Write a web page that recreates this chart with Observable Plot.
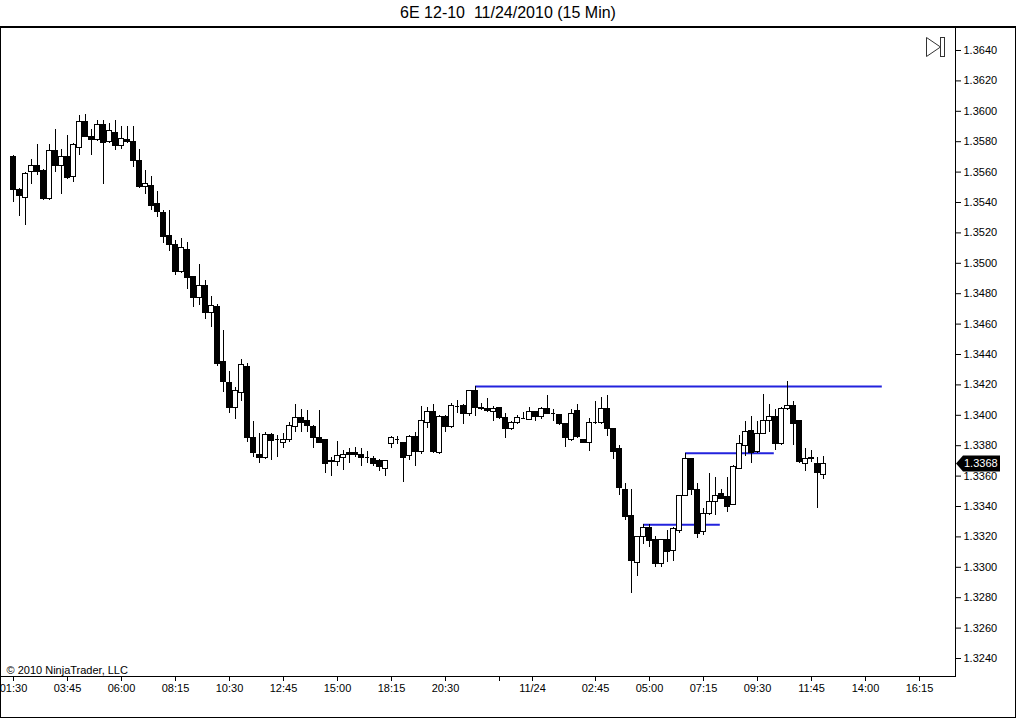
<!DOCTYPE html>
<html><head><meta charset="utf-8">
<script src="https://cdn.jsdelivr.net/npm/d3@7"></script>
<script src="https://cdn.jsdelivr.net/npm/@observablehq/plot@0.6"></script>
<style>
body{margin:0;background:#fff;font-family:"Liberation Sans",Arial,sans-serif;}
#wrap{width:1016px;height:719px;position:relative;overflow:hidden;background:#fff}
#title{height:26px;border-bottom:1px solid #000;text-align:center;font-size:16px;line-height:26px;color:#000;padding-left:0}
svg{display:block}
</style></head>
<body><div id="wrap"><div id="title">6E 12-10&nbsp; 11/24/2010 (15 Min)</div><div id="chart"></div></div>
<script>
// 15-minute bars, in order (index 0 = 01:30 on 11/23)
const opens  = [1.3570,1.3548,1.3543,1.3560,1.3564,1.3561,1.3542,1.3574,1.3564,1.3570,1.3557,1.3576,1.3593,1.3583,1.3581,1.3591,1.3580,1.3586,1.3577,1.3581,
1.3580,1.3567,1.3550,1.3551,1.3539,1.3533,1.3518,1.3512,1.3494,1.3509,1.3491,1.3477,1.3485,1.3467,1.3471,1.3435,1.3421,1.3405,1.3415,1.3432,
1.3385,1.3374,1.3372,1.3387,1.3384,1.3382,1.3384,1.3392,1.3398,1.3396,1.3392,1.3385,1.3384,1.3369,1.3369,1.3372,1.3375,1.3375,1.3374,1.3372,
1.3371,1.3370,1.3365,1.3381,1.3384,1.3382,1.3373,1.3386,1.3376,1.3395,1.3402,1.3375,1.3399,1.3392,1.3406,1.3406,1.3401,1.3416,1.3405,1.3404,
1.3402,1.3405,1.3398,1.3391,1.3395,1.3398,1.3397,1.3402,1.3399,1.3404,1.3401,1.3400,1.3394,1.3384,1.3403,1.3384,1.3382,1.3395,1.3395,1.3404,
1.3391,1.3378,1.3351,1.3334,1.3303,1.3320,1.3326,1.3318,1.3302,1.3318,1.3311,1.3324,1.3347,1.3371,1.3351,1.3323,1.3335,1.3343,1.3348,1.3346,
1.3341,1.3365,1.3380,1.3390,1.3376,1.3388,1.3396,1.3399,1.3381,1.3404,1.3406,1.3396,1.3368,1.3372,1.3368,1.3361];
const highs  = [1.3571,1.3549,1.3560,1.3568,1.3578,1.3562,1.3578,1.3588,1.3575,1.3584,1.3579,1.3597,1.3598,1.3588,1.3594,1.3594,1.3592,1.3594,1.3590,1.3590,
1.3590,1.3575,1.3561,1.3557,1.3547,1.3535,1.3535,1.3515,1.3516,1.3514,1.3491,1.3499,1.3489,1.3478,1.3473,1.3456,1.3429,1.3418,1.3437,1.3434,
1.3396,1.3388,1.3389,1.3388,1.3387,1.3388,1.3395,1.3407,1.3404,1.3403,1.3393,1.3403,1.3384,1.3372,1.3383,1.3377,1.3378,1.3379,1.3378,1.3376,
1.3373,1.3371,1.3370,1.3386,1.3386,1.3382,1.3387,1.3389,1.3406,1.3405,1.3407,1.3400,1.3400,1.3408,1.3410,1.3407,1.3416,1.3419,1.3408,1.3411,
1.3406,1.3405,1.3401,1.3396,1.3400,1.3402,1.3405,1.3402,1.3405,1.3413,1.3404,1.3400,1.3394,1.3404,1.3407,1.3384,1.3398,1.3409,1.3412,1.3413,
1.3391,1.3380,1.3355,1.3351,1.3320,1.3328,1.3328,1.3320,1.3318,1.3324,1.3326,1.3347,1.3375,1.3371,1.3355,1.3339,1.3362,1.3359,1.3351,1.3359,
1.3367,1.3387,1.3396,1.3399,1.3396,1.3414,1.3407,1.3404,1.3405,1.3422,1.3409,1.3396,1.3378,1.3377,1.3372,1.3373];
const lows   = [1.3540,1.3531,1.3525,1.3552,1.3558,1.3541,1.3541,1.3560,1.3545,1.3555,1.3553,1.3571,1.3583,1.3571,1.3580,1.3552,1.3579,1.3574,1.3575,1.3579,
1.3563,1.3549,1.3545,1.3535,1.3530,1.3513,1.3508,1.3492,1.3493,1.3483,1.3471,1.3472,1.3463,1.3458,1.3432,1.3415,1.3401,1.3397,1.3409,1.3382,
1.3372,1.3368,1.3371,1.3370,1.3372,1.3378,1.3382,1.3389,1.3389,1.3389,1.3378,1.3382,1.3362,1.3360,1.3366,1.3364,1.3368,1.3372,1.3366,1.3368,
1.3366,1.3363,1.3360,1.3378,1.3381,1.3356,1.3370,1.3366,1.3374,1.3391,1.3375,1.3374,1.3389,1.3391,1.3401,1.3394,1.3399,1.3399,1.3403,1.3402,
1.3396,1.3397,1.3385,1.3390,1.3394,1.3397,1.3397,1.3396,1.3397,1.3401,1.3396,1.3393,1.3379,1.3383,1.3385,1.3382,1.3376,1.3394,1.3394,1.3386,
1.3371,1.3347,1.3331,1.3283,1.3294,1.3315,1.3313,1.3300,1.3300,1.3303,1.3304,1.3322,1.3347,1.3347,1.3319,1.3321,1.3334,1.3334,1.3345,1.3336,
1.3341,1.3365,1.3373,1.3368,1.3375,1.3388,1.3389,1.3377,1.3380,1.3403,1.3380,1.3368,1.3363,1.3369,1.3339,1.3358];
const closes = [1.3548,1.3544,1.3559,1.3564,1.3560,1.3542,1.3574,1.3564,1.3570,1.3556,1.3578,1.3593,1.3583,1.3581,1.3591,1.3579,1.3587,1.3577,1.3582,1.3580,
1.3567,1.3550,1.3552,1.3538,1.3534,1.3517,1.3512,1.3494,1.3510,1.3490,1.3477,1.3485,1.3467,1.3472,1.3434,1.3422,1.3405,1.3416,1.3433,1.3385,
1.3375,1.3372,1.3387,1.3383,1.3384,1.3384,1.3393,1.3398,1.3395,1.3393,1.3385,1.3382,1.3368,1.3370,1.3373,1.3374,1.3374,1.3374,1.3372,1.3372,
1.3368,1.3366,1.3370,1.3385,1.3384,1.3372,1.3386,1.3376,1.3396,1.3402,1.3376,1.3399,1.3392,1.3406,1.3406,1.3401,1.3416,1.3405,1.3404,1.3403,
1.3404,1.3398,1.3391,1.3395,1.3398,1.3398,1.3402,1.3399,1.3404,1.3401,1.3401,1.3394,1.3385,1.3401,1.3386,1.3382,1.3395,1.3395,1.3404,1.3391,
1.3376,1.3352,1.3333,1.3304,1.3320,1.3326,1.3317,1.3302,1.3318,1.3310,1.3325,1.3347,1.3371,1.3351,1.3322,1.3335,1.3343,1.3347,1.3345,1.3340,
1.3366,1.3381,1.3389,1.3375,1.3388,1.3396,1.3399,1.3381,1.3404,1.3406,1.3394,1.3369,1.3371,1.3371,1.3362,1.3368];

// time axis: bar index of each tick and its label
const xTickIdx    = [0, 9, 18, 27, 36, 45, 54, 63, 72, 81, 86.5, 97, 106, 115, 124, 133, 142, 151];
const xTickLabels = ["01:30","03:45","06:00","08:15","10:30","12:45","15:00","18:15","20:30","","11/24","02:45","05:00","07:15","09:30","11:45","14:00","16:15"];
const yTicks = [1.3240,1.3260,1.3280,1.3300,1.3320,1.3340,1.3360,1.3380,1.3400,1.3420,1.3440,1.3460,1.3480,1.3500,1.3520,1.3540,1.3560,1.3580,1.3600,1.3620,1.3640];

// horizontal blue levels (price, from bar, to bar)
const levelPrice = [1.3419, 1.3375, 1.3328];
const levelFrom  = [77, 112, 105];
const levelTo    = [144.8, 126.8, 117.8];

const lastPrice = closes[closes.length - 1];

const bars = opens.map((o, i) => ({i, open: o, high: highs[i], low: lows[i], close: closes[i]}));
const up = bars.filter(d => d.close > d.open);
const down = bars.filter(d => d.close < d.open);
const doji = bars.filter(d => d.close === d.open);
const levels = levelPrice.map((p, j) => ({price: p, from: levelFrom[j], to: levelTo[j]}));
const labelMap = new Map(xTickIdx.map((v, j) => [v, xTickLabels[j]]));
const hw = 0.37;

const plot = Plot.plot({
  width: 1016, height: 692,
  marginLeft: 0, marginRight: 61, marginTop: 0, marginBottom: 43,
  style: {fontFamily: "'Liberation Sans', Arial, sans-serif", fontSize: "11px", color: "#000", background: "#fff"},
  x: {type: "linear", domain: [-13/6, 157], axis: null},
  y: {domain: [1.322816, 1.365513], axis: null},
  marks: [
    Plot.ruleY(levels, {y: "price", x1: "from", x2: "to", stroke: "#2222dd", strokeWidth: 2}),
    Plot.ruleX(bars, {x: "i", y1: "low", y2: "high", stroke: "#000", strokeWidth: 1, shapeRendering: "crispEdges"}),
    Plot.rect(up, {x1: d => d.i - hw, x2: d => d.i + hw, y1: "open", y2: "close", fill: "#fff", stroke: "#000", strokeWidth: 1, shapeRendering: "crispEdges"}),
    Plot.rect(down, {x1: d => d.i - hw, x2: d => d.i + hw, y1: "open", y2: "close", fill: "#000", stroke: "#000", strokeWidth: 1, shapeRendering: "crispEdges"}),
    Plot.ruleY(doji, {y: "close", x1: d => d.i - hw, x2: d => d.i + hw, stroke: "#000", strokeWidth: 1, shapeRendering: "crispEdges"}),
    Plot.frame({stroke: "#000", strokeWidth: 1}),
    Plot.axisY(yTicks, {anchor: "right", tickSize: 5, tickPadding: 3, tickFormat: d => d.toFixed(4), fontSize: 11, fill: "#000", stroke: "#000"}),
    Plot.axisX(xTickIdx, {anchor: "bottom", tickSize: 5, tickPadding: 3, tickFormat: d => labelMap.get(d), fontSize: 11, fill: "#000", stroke: "#000"}),
    Plot.text(["© 2010 NinjaTrader, LLC"], {frameAnchor: "bottom-left", dx: 6, dy: -3, textAnchor: "start", lineAnchor: "bottom", fontSize: 11, fill: "#000"})
  ]
});
document.getElementById("chart").appendChild(plot);

// decorations: outer border, price marker, play icon
const svg = d3.select(plot);
const ys = plot.scale("y");
const yy = ys.apply(lastPrice);
svg.append("rect").attr("x", 0.5).attr("y", 0.5).attr("width", 1015).attr("height", 690)
  .attr("fill", "none").attr("stroke", "#000");
const m = svg.append("g");
m.append("path")
  .attr("d", `M956,${yy} L963,${yy-8} L1000,${yy-8} L1000,${yy+8} L963,${yy+8} Z`)
  .attr("fill", "#000");
m.append("text").attr("x", 964).attr("y", yy).attr("dy", "0.35em")
  .attr("text-anchor", "start")
  .attr("fill", "#fff").attr("font-size", 11).attr("font-family", "'Liberation Sans', Arial, sans-serif")
  .text(lastPrice.toFixed(4));
const ic = svg.append("g").attr("fill", "#fff").attr("stroke", "#333").attr("stroke-width", 1);
ic.append("path").attr("d", "M926.5,10.5 L926.5,29.5 L940.5,20 Z");
ic.append("rect").attr("x", 940.5).attr("y", 10.5).attr("width", 4).attr("height", 19);
</script>
</body></html>
